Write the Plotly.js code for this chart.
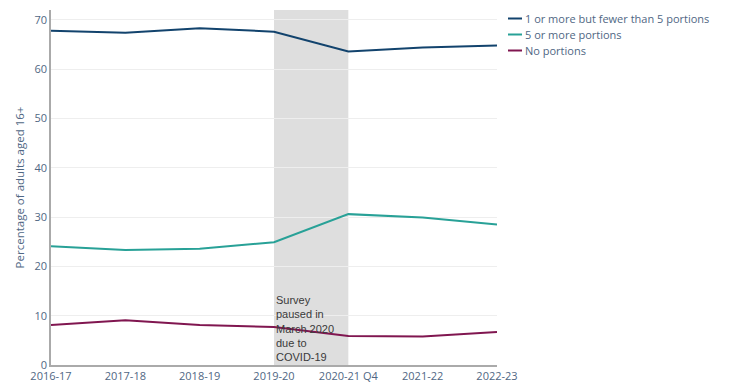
<!DOCTYPE html>
<html><head><meta charset="utf-8">
<script src="https://cdn.plot.ly/plotly-3.0.1.min.js"></script>
<style>body{margin:0;padding:0;background:#fff}#chart{width:748px;height:392px}</style>
</head><body><div id="chart"></div>
<script>
const years = ["2016-17","2017-18","2018-19","2019-20","2020-21 Q4","2021-22","2022-23"];
const oneToFive = [67.8, 67.4, 68.3, 67.6, 63.6, 64.4, 64.8];
const fivePlus = [24.1, 23.3, 23.6, 24.9, 30.6, 29.9, 28.5];
const noPortions = [8.1, 9.1, 8.1, 7.7, 5.9, 5.8, 6.7];
const seriesNames = ["1 or more but fewer than 5 portions","5 or more portions","No portions"];
const colors = ["#12436D","#28A197","#801650"];

const traces = [oneToFive, fivePlus, noPortions].map((v,i)=>({
  x: years, y: v, type: 'scatter', mode: 'lines', name: seriesNames[i],
  line: {color: colors[i], width: 2}
}));

const layout = {
  width: 748, height: 392,
  margin: {l: 51, r: 251, t: 10, b: 27},
  paper_bgcolor: '#fff', plot_bgcolor: '#fff',
  font: {family: 'Open Sans, Arial, sans-serif', size: 11, color: '#506784'},
  showlegend: true,
  legend: {xref: 'container', yref: 'container', x: 503/748, y: 1 - 4/392, xanchor: 'left', yanchor: 'top',
    font: {size: 11, color: '#506784'}, tracegroupgap: 0, bgcolor: 'rgba(0,0,0,0)'},
  xaxis: {type: 'category', range: [0, 6], showgrid: false, showline: true, linecolor: '#aaa', linewidth: 1.5, ticks: '', tickfont: {size: 11}, zeroline: false},
  yaxis: {range: [0, 72], dtick: 10, showgrid: true, gridcolor: '#eee', showline: true, linecolor: '#aaa', linewidth: 1.5, ticks: '', zeroline: false, tickfont: {size: 11},
    title: {text: 'Percentage of adults aged 16+', font: {size: 11.5, color: '#506784'}, standoff: 7}},
  shapes: [{type: 'rect', xref: 'x', yref: 'paper', x0: 3, x1: 4, y0: 0, y1: 1, fillcolor: '#dedede', line: {width: 0}, layer: 'below'}],
  annotations: [{xref: 'x', yref: 'paper', x: 3, y: 0, xanchor: 'left', yanchor: 'bottom', align: 'left', showarrow: false,
    text: 'Survey<br>paused in<br>March 2020<br>due to<br>COVID-19', font: {family: 'Arial, Liberation Sans, sans-serif', size: 11, color: '#3a3a3a'}}]
};
Plotly.newPlot('chart', traces, layout, {displayModeBar: false}).then(gd => {
  gd.querySelectorAll('.legend .legendlines path').forEach(p => p.setAttribute('d', 'M5,0h14'));
  gd.querySelectorAll('.legend text.legendtext').forEach(t => t.setAttribute('x', '22'));
  const items = gd.querySelectorAll('.legend .traces');
  let y0 = null;
  items.forEach((g, i) => {
    const m = /translate\(\s*([-\d.]+)[ ,]+([-\d.]+)/.exec(g.getAttribute('transform') || '');
    if (!m) return;
    if (y0 === null) y0 = parseFloat(m[2]);
    g.setAttribute('transform', 'translate(' + m[1] + ',' + (y0 + i * 16) + ')');
  });
});
</script></body></html>
